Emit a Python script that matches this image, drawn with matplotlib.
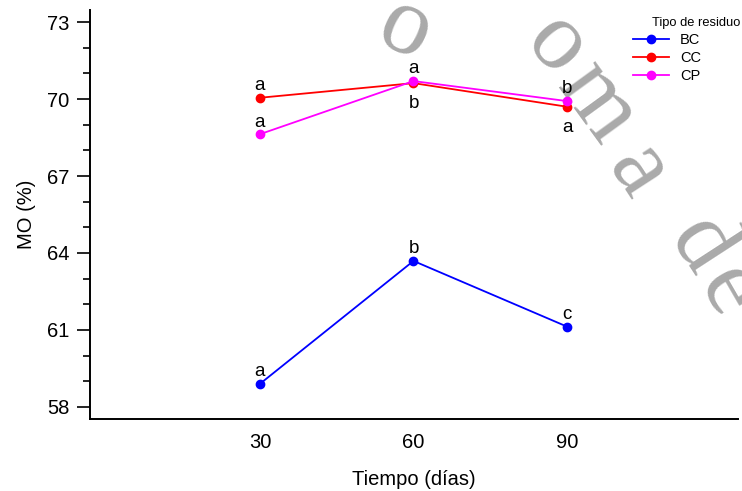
import numpy as np
import matplotlib
matplotlib.use("Agg")
import matplotlib.pyplot as plt
from matplotlib.ticker import MultipleLocator

plt.rcParams['font.family'] = ['Liberation Sans', 'DejaVu Sans']

# Datos: materia organica (%) por tipo de residuo
tiempo = [30, 60, 90]
bc = [58.90, 63.69, 61.13]
cc = [70.05, 70.62, 69.70]
cp = [68.63, 70.70, 69.92]

# letras de comparacion de medias y posicion (arriba/abajo)
letras_bc = ['a', 'b', 'c']
letras_cc = ['a', 'b', 'a']
letras_cp = ['a', 'a', 'b']
pos_bc = ['up', 'up', 'up']
pos_cc = ['up', 'down', 'down']
pos_cp = ['up', 'up', 'up']

series = [
    ('BC', bc, letras_bc, pos_bc, '#0000ff'),
    ('CC', cc, letras_cc, pos_cc, '#ff0000'),
    ('CP', cp, letras_cp, pos_cp, '#ff00ff'),
]

# marca de agua del documento (texto curvo): letra, x px, y px, rotacion
marca = [('o', 405, 30, -25), ('o', 556, 46, -48), ('m', 597, 104, -54),
         ('a', 638, 172, -57), ('d', 700, 246, -57), ('e', 728, 292, -60)]

W, H = 742, 491
fig = plt.figure(figsize=(W / 100, H / 100), dpi=100)
ax = fig.add_axes([90 / W, 1 - 419 / H, (738 - 90) / W, (419 - 10) / H])
ax.set_facecolor('none')

for ch, px, py, rot in marca:
    fig.text(px / W, 1 - py / H, ch, fontsize=70, family='Liberation Serif',
             color='#aaaaaa', rotation=rot, ha='center', va='center', zorder=-1)

for nombre, vals, letras, pos, col in series:
    ax.plot(tiempo, vals, '-o', color=col, lw=1.3, ms=6, label=nombre)
    for x, y, l, p in zip(tiempo, vals, letras, pos):
        dy = 5.5 if p == 'up' else -18
        ax.annotate(l, (x, y), xytext=(0, dy), textcoords='offset points',
                    ha='center', va='baseline', fontsize=13.5)

ax.set_xlim(-3.2, 123.4)
ax.set_ylim(57.53, 73.47)
ax.set_xticks(tiempo)
ax.set_yticks([58, 61, 64, 67, 70, 73])
ax.yaxis.set_minor_locator(MultipleLocator(1))
ax.tick_params(axis='x', length=0, pad=10, labelsize=14.5)
ax.tick_params(axis='y', which='major', length=9.5, width=1.2, pad=5.5, labelsize=14.5)
ax.tick_params(axis='y', which='minor', length=5, width=1.2)
for s in ['top', 'right']:
    ax.spines[s].set_visible(False)
for s in ['left', 'bottom']:
    ax.spines[s].set_linewidth(1.4)

ax.set_xlabel('Tiempo (días)', fontsize=14.5, labelpad=13)
ax.set_ylabel('MO (%)', fontsize=14.5, labelpad=8)

leg = ax.legend(loc='upper left', bbox_to_anchor=(633 / W, 1 - 33.5 / H),
                bbox_transform=fig.transFigure, frameon=False, fontsize=10.5,
                borderpad=0, borderaxespad=0, handlelength=2.47,
                handletextpad=0.75, labelspacing=0.26)
fig.text(652 / W, 1 - 23 / H, 'Tipo de residuo', fontsize=9.3,
         ha='left', va='center')

fig.savefig('out.png', dpi=100)
